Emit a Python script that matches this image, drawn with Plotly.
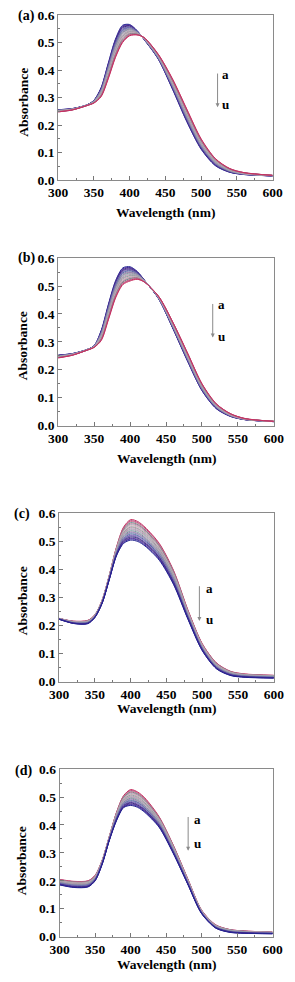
import plotly.graph_objects as go

W, H = 295, 982

# ---------------- data ----------------
wavelength = [300, 320, 340, 350, 360, 370, 380, 390, 400, 410, 420, 440, 460, 480, 500, 520, 540, 560, 600]
curve_labels = list("abcdefghijklmnopqrstu")
panel_labels = ["(a)", "(b)", "(c)", "(d)"]
x_ticks = [300, 350, 400, 450, 500, 550, 600]
y_ticks = [0.0, 0.1, 0.2, 0.3, 0.4, 0.5, 0.6]
x_title = "Wavelength (nm)"
y_title = "Absorbance"

# each row = one wavelength, columns = spectra a .. u
abs_a = [
    [0.256,0.256,0.255,0.255,0.254,0.254,0.254,0.253,0.253,0.252,0.252,0.252,0.251,0.251,0.250,0.250,0.250,0.249,0.249,0.248,0.248],
    [0.260,0.260,0.260,0.259,0.259,0.259,0.259,0.258,0.258,0.258,0.258,0.257,0.257,0.257,0.257,0.256,0.256,0.256,0.256,0.255,0.255],
    [0.273,0.273,0.273,0.273,0.273,0.273,0.273,0.272,0.272,0.272,0.272,0.272,0.272,0.272,0.271,0.271,0.271,0.271,0.271,0.271,0.271],
    [0.290,0.290,0.289,0.289,0.288,0.288,0.287,0.287,0.286,0.286,0.285,0.285,0.284,0.284,0.283,0.283,0.282,0.282,0.281,0.281,0.280],
    [0.336,0.334,0.333,0.331,0.329,0.328,0.326,0.324,0.323,0.321,0.320,0.318,0.316,0.315,0.313,0.311,0.310,0.308,0.306,0.305,0.303],
    [0.425,0.422,0.419,0.416,0.414,0.411,0.408,0.405,0.402,0.399,0.397,0.394,0.391,0.388,0.385,0.382,0.379,0.377,0.374,0.371,0.368],
    [0.512,0.509,0.505,0.502,0.499,0.495,0.492,0.489,0.485,0.482,0.479,0.475,0.472,0.469,0.465,0.462,0.458,0.455,0.452,0.448,0.445],
    [0.563,0.560,0.557,0.554,0.550,0.547,0.544,0.541,0.538,0.535,0.532,0.528,0.525,0.522,0.519,0.516,0.513,0.509,0.506,0.503,0.500],
    [0.566,0.564,0.562,0.560,0.558,0.556,0.554,0.552,0.550,0.548,0.546,0.543,0.541,0.539,0.537,0.535,0.533,0.531,0.529,0.527,0.525],
    [0.545,0.544,0.543,0.542,0.542,0.541,0.540,0.539,0.538,0.537,0.537,0.536,0.535,0.534,0.533,0.532,0.531,0.531,0.530,0.529,0.528],
    [0.512,0.512,0.513,0.513,0.513,0.514,0.514,0.514,0.515,0.515,0.516,0.516,0.516,0.517,0.517,0.517,0.518,0.518,0.518,0.519,0.519],
    [0.440,0.441,0.442,0.443,0.444,0.444,0.445,0.446,0.447,0.448,0.449,0.450,0.451,0.452,0.453,0.454,0.454,0.455,0.456,0.457,0.458],
    [0.330,0.332,0.334,0.336,0.338,0.340,0.341,0.343,0.345,0.347,0.349,0.351,0.353,0.355,0.357,0.359,0.360,0.362,0.364,0.366,0.368],
    [0.212,0.214,0.217,0.219,0.221,0.224,0.226,0.228,0.230,0.233,0.235,0.237,0.240,0.242,0.244,0.247,0.249,0.251,0.253,0.256,0.258],
    [0.112,0.114,0.116,0.118,0.120,0.122,0.123,0.125,0.127,0.129,0.131,0.133,0.135,0.137,0.139,0.141,0.142,0.144,0.146,0.148,0.150],
    [0.052,0.053,0.055,0.056,0.057,0.059,0.060,0.061,0.062,0.064,0.065,0.066,0.068,0.069,0.070,0.072,0.073,0.074,0.075,0.077,0.078],
    [0.028,0.029,0.029,0.030,0.031,0.032,0.032,0.033,0.034,0.034,0.035,0.036,0.036,0.037,0.038,0.039,0.039,0.040,0.041,0.041,0.042],
    [0.020,0.020,0.021,0.021,0.021,0.022,0.022,0.022,0.023,0.023,0.023,0.024,0.024,0.025,0.025,0.025,0.026,0.026,0.026,0.027,0.027],
    [0.015,0.015,0.015,0.015,0.015,0.015,0.015,0.016,0.016,0.016,0.016,0.016,0.016,0.016,0.017,0.017,0.017,0.017,0.017,0.017,0.017],
]

abs_b = [
    [0.252,0.252,0.251,0.251,0.250,0.250,0.249,0.249,0.248,0.248,0.247,0.247,0.246,0.246,0.245,0.245,0.244,0.244,0.243,0.243,0.242],
    [0.258,0.258,0.257,0.257,0.257,0.257,0.256,0.256,0.256,0.255,0.255,0.255,0.254,0.254,0.254,0.254,0.253,0.253,0.253,0.252,0.252],
    [0.272,0.272,0.272,0.272,0.272,0.272,0.272,0.271,0.271,0.271,0.271,0.271,0.271,0.271,0.270,0.270,0.270,0.270,0.270,0.270,0.270],
    [0.286,0.286,0.285,0.285,0.285,0.285,0.284,0.284,0.284,0.283,0.283,0.283,0.282,0.282,0.282,0.282,0.281,0.281,0.281,0.280,0.280],
    [0.342,0.340,0.338,0.336,0.335,0.333,0.331,0.329,0.327,0.325,0.324,0.322,0.320,0.318,0.316,0.314,0.312,0.311,0.309,0.307,0.305],
    [0.436,0.433,0.430,0.428,0.425,0.422,0.419,0.416,0.414,0.411,0.408,0.405,0.402,0.400,0.397,0.394,0.391,0.388,0.386,0.383,0.380],
    [0.520,0.517,0.514,0.511,0.508,0.505,0.501,0.498,0.495,0.492,0.489,0.486,0.483,0.480,0.477,0.474,0.470,0.467,0.464,0.461,0.458],
    [0.565,0.562,0.559,0.556,0.553,0.550,0.547,0.544,0.541,0.538,0.535,0.532,0.529,0.526,0.523,0.520,0.517,0.514,0.511,0.508,0.505],
    [0.569,0.566,0.564,0.561,0.559,0.556,0.554,0.551,0.549,0.546,0.544,0.541,0.538,0.536,0.533,0.531,0.528,0.526,0.523,0.521,0.518],
    [0.552,0.551,0.549,0.548,0.546,0.545,0.544,0.542,0.541,0.539,0.538,0.537,0.535,0.534,0.532,0.531,0.530,0.528,0.527,0.525,0.524],
    [0.521,0.521,0.520,0.520,0.520,0.519,0.519,0.519,0.518,0.518,0.518,0.517,0.517,0.516,0.516,0.516,0.515,0.515,0.515,0.514,0.514],
    [0.453,0.453,0.454,0.454,0.455,0.455,0.456,0.456,0.457,0.457,0.458,0.458,0.458,0.459,0.459,0.460,0.460,0.461,0.461,0.462,0.462],
    [0.345,0.346,0.347,0.348,0.350,0.351,0.352,0.353,0.354,0.355,0.357,0.358,0.359,0.360,0.361,0.362,0.363,0.365,0.366,0.367,0.368],
    [0.230,0.232,0.233,0.235,0.236,0.238,0.239,0.241,0.242,0.244,0.245,0.247,0.248,0.250,0.251,0.253,0.254,0.256,0.257,0.259,0.260],
    [0.125,0.126,0.128,0.129,0.130,0.131,0.133,0.134,0.135,0.136,0.138,0.139,0.140,0.141,0.143,0.144,0.145,0.146,0.148,0.149,0.150],
    [0.060,0.061,0.062,0.063,0.064,0.065,0.065,0.066,0.067,0.068,0.069,0.070,0.071,0.072,0.073,0.074,0.074,0.075,0.076,0.077,0.078],
    [0.032,0.033,0.033,0.034,0.034,0.035,0.035,0.036,0.036,0.037,0.037,0.038,0.038,0.039,0.039,0.040,0.040,0.041,0.041,0.042,0.042],
    [0.021,0.021,0.021,0.021,0.022,0.022,0.022,0.022,0.022,0.023,0.023,0.023,0.023,0.023,0.024,0.024,0.024,0.024,0.024,0.025,0.025],
    [0.014,0.014,0.014,0.014,0.014,0.014,0.014,0.014,0.014,0.014,0.015,0.015,0.015,0.015,0.015,0.015,0.015,0.015,0.015,0.015,0.015],
]

abs_c = [
    [0.225,0.225,0.225,0.225,0.224,0.224,0.224,0.224,0.224,0.224,0.224,0.223,0.223,0.223,0.223,0.223,0.223,0.222,0.222,0.222,0.222],
    [0.215,0.215,0.214,0.214,0.213,0.213,0.213,0.212,0.212,0.211,0.211,0.211,0.210,0.210,0.209,0.209,0.209,0.208,0.208,0.207,0.207],
    [0.218,0.217,0.217,0.216,0.216,0.215,0.214,0.214,0.213,0.213,0.212,0.211,0.211,0.210,0.210,0.209,0.208,0.208,0.207,0.207,0.206],
    [0.238,0.238,0.237,0.237,0.236,0.236,0.235,0.235,0.234,0.234,0.233,0.233,0.232,0.232,0.231,0.231,0.230,0.230,0.229,0.229,0.228],
    [0.290,0.289,0.289,0.288,0.288,0.287,0.286,0.286,0.285,0.285,0.284,0.283,0.283,0.282,0.282,0.281,0.280,0.280,0.279,0.279,0.278],
    [0.378,0.377,0.376,0.376,0.375,0.374,0.373,0.372,0.372,0.371,0.370,0.369,0.368,0.368,0.367,0.366,0.365,0.364,0.364,0.363,0.362],
    [0.478,0.476,0.475,0.473,0.472,0.470,0.469,0.467,0.466,0.464,0.463,0.461,0.459,0.458,0.456,0.455,0.453,0.452,0.450,0.449,0.447],
    [0.550,0.547,0.544,0.541,0.538,0.536,0.533,0.530,0.527,0.524,0.521,0.518,0.515,0.512,0.509,0.507,0.504,0.501,0.498,0.495,0.492],
    [0.577,0.573,0.570,0.566,0.562,0.559,0.555,0.551,0.548,0.544,0.541,0.537,0.533,0.530,0.526,0.522,0.519,0.515,0.511,0.508,0.504],
    [0.570,0.566,0.563,0.559,0.556,0.552,0.549,0.545,0.542,0.538,0.535,0.531,0.527,0.524,0.520,0.517,0.513,0.510,0.506,0.503,0.499],
    [0.550,0.547,0.543,0.540,0.537,0.533,0.530,0.527,0.523,0.520,0.517,0.513,0.510,0.507,0.503,0.500,0.496,0.493,0.490,0.486,0.483],
    [0.492,0.489,0.486,0.483,0.480,0.477,0.474,0.471,0.468,0.465,0.462,0.459,0.456,0.453,0.450,0.447,0.444,0.441,0.438,0.435,0.432],
    [0.395,0.393,0.390,0.388,0.385,0.383,0.380,0.378,0.375,0.373,0.370,0.368,0.365,0.363,0.360,0.358,0.355,0.353,0.350,0.348,0.345],
    [0.255,0.253,0.252,0.250,0.248,0.247,0.245,0.243,0.242,0.240,0.239,0.237,0.235,0.234,0.232,0.230,0.229,0.227,0.225,0.224,0.222],
    [0.135,0.134,0.133,0.131,0.130,0.129,0.128,0.126,0.125,0.124,0.123,0.121,0.120,0.119,0.118,0.116,0.115,0.114,0.113,0.111,0.110],
    [0.066,0.065,0.064,0.063,0.062,0.061,0.060,0.059,0.058,0.057,0.056,0.054,0.053,0.052,0.051,0.050,0.049,0.048,0.047,0.046,0.045],
    [0.036,0.035,0.035,0.034,0.033,0.032,0.032,0.031,0.030,0.029,0.029,0.028,0.027,0.026,0.026,0.025,0.024,0.023,0.023,0.022,0.021],
    [0.027,0.026,0.026,0.025,0.025,0.024,0.023,0.023,0.022,0.022,0.021,0.020,0.020,0.019,0.019,0.018,0.017,0.017,0.016,0.016,0.015],
    [0.022,0.022,0.021,0.021,0.020,0.020,0.019,0.019,0.018,0.018,0.017,0.017,0.016,0.016,0.015,0.015,0.014,0.014,0.013,0.013,0.012],
]

abs_d = [
    [0.205,0.204,0.203,0.202,0.201,0.200,0.199,0.198,0.197,0.196,0.195,0.194,0.193,0.192,0.191,0.190,0.189,0.188,0.187,0.186,0.185],
    [0.198,0.197,0.196,0.195,0.194,0.193,0.191,0.190,0.189,0.188,0.187,0.186,0.185,0.184,0.183,0.182,0.180,0.179,0.178,0.177,0.176],
    [0.200,0.199,0.198,0.197,0.196,0.195,0.193,0.192,0.191,0.190,0.189,0.188,0.187,0.186,0.185,0.184,0.182,0.181,0.180,0.179,0.178],
    [0.220,0.219,0.218,0.217,0.216,0.215,0.214,0.213,0.212,0.211,0.210,0.209,0.208,0.207,0.206,0.205,0.204,0.203,0.202,0.201,0.200],
    [0.275,0.274,0.274,0.273,0.272,0.271,0.271,0.270,0.269,0.268,0.268,0.267,0.266,0.265,0.265,0.264,0.263,0.262,0.262,0.261,0.260],
    [0.360,0.359,0.359,0.358,0.357,0.356,0.356,0.355,0.354,0.353,0.353,0.352,0.351,0.350,0.350,0.349,0.348,0.347,0.347,0.346,0.345],
    [0.445,0.444,0.442,0.441,0.439,0.438,0.436,0.435,0.433,0.432,0.430,0.429,0.427,0.426,0.424,0.423,0.421,0.420,0.418,0.417,0.415],
    [0.505,0.503,0.501,0.499,0.496,0.494,0.492,0.490,0.488,0.486,0.484,0.481,0.479,0.477,0.475,0.473,0.471,0.468,0.466,0.464,0.462],
    [0.527,0.524,0.521,0.518,0.516,0.513,0.510,0.507,0.504,0.501,0.499,0.496,0.493,0.490,0.487,0.484,0.481,0.479,0.476,0.473,0.470],
    [0.518,0.515,0.513,0.510,0.507,0.504,0.502,0.499,0.496,0.493,0.491,0.488,0.485,0.482,0.480,0.477,0.474,0.471,0.469,0.466,0.463],
    [0.497,0.494,0.492,0.489,0.487,0.484,0.481,0.479,0.476,0.474,0.471,0.468,0.466,0.463,0.461,0.458,0.455,0.453,0.450,0.448,0.445],
    [0.430,0.428,0.426,0.424,0.422,0.421,0.419,0.417,0.415,0.413,0.411,0.409,0.407,0.405,0.403,0.402,0.400,0.398,0.396,0.394,0.392],
    [0.328,0.327,0.325,0.324,0.322,0.321,0.319,0.318,0.316,0.315,0.313,0.312,0.310,0.309,0.307,0.306,0.304,0.303,0.301,0.300,0.298],
    [0.210,0.209,0.208,0.207,0.206,0.205,0.204,0.203,0.202,0.201,0.200,0.199,0.198,0.197,0.196,0.195,0.194,0.193,0.192,0.191,0.190],
    [0.095,0.094,0.094,0.093,0.092,0.092,0.091,0.090,0.090,0.089,0.089,0.088,0.087,0.087,0.086,0.085,0.085,0.084,0.083,0.083,0.082],
    [0.042,0.041,0.041,0.040,0.040,0.039,0.038,0.038,0.037,0.037,0.036,0.035,0.035,0.034,0.034,0.033,0.032,0.032,0.031,0.031,0.030],
    [0.025,0.025,0.024,0.024,0.023,0.023,0.022,0.022,0.021,0.021,0.020,0.020,0.019,0.019,0.018,0.018,0.017,0.017,0.016,0.016,0.015],
    [0.020,0.020,0.019,0.019,0.018,0.018,0.018,0.017,0.017,0.016,0.016,0.016,0.015,0.015,0.014,0.014,0.014,0.013,0.013,0.012,0.012],
    [0.016,0.016,0.015,0.015,0.015,0.015,0.014,0.014,0.014,0.013,0.013,0.013,0.012,0.012,0.012,0.012,0.011,0.011,0.011,0.010,0.010],
]

# arrow a -> u per panel: x position (nm), top and bottom absorbance
arrow_x = [523, 515, 496, 481]
arrow_top = [0.393, 0.441, 0.345, 0.434]
arrow_bottom = [0.265, 0.315, 0.216, 0.308]
label_x = [527, 520, 502, 486]
label_a_y = [0.385, 0.433, 0.333, 0.418]
label_u_y = [0.274, 0.320, 0.222, 0.332]

# ---------------- styling ----------------
palette_ab = ['#23238e', '#3a2a9c', '#5a2d91', '#2f2f7f', '#6b4fa8', '#7e6bb5', '#4f6f9f',
              '#8a8ab8', '#a07aa8', '#6f9a9a', '#b8a0b8', '#9aa6ae', '#c890b0', '#7fa79a',
              '#d8a8b8', '#a8b0b8', '#c07898', '#5f8f8a', '#d07090', '#b04878', '#c83060']
palette_cd = palette_ab[::-1]
palettes = [palette_ab, palette_ab, palette_cd, palette_cd]

# plot-area pixel boxes (left, right, top, bottom)
boxes = [(51.7, 281.7, 8.3, 175.7), (51.7, 283.0, 255.0, 425.0),
         (52.7, 283.0, 514.0, 685.0), (53.3, 281.7, 774.0, 944.0)]
xtitle_y = [209, 458, 712, 972]
ytitle_pos = [(14.3, 97), (13.3, 344), (13.3, 603), (12.3, 867)]
plabel_pos = [(6.7, 8.7), (6.0, 255.0), (1.7, 515.3), (2.7, 776.3)]

SERIF = "Liberation Serif"
datasets = [abs_a, abs_b, abs_c, abs_d]

fig = go.Figure()
layout = dict(width=W, height=H, margin=dict(l=0, r=0, t=0, b=0),
              paper_bgcolor='white', plot_bgcolor='white', showlegend=False)
annotations = []

def px(x):
    return x / W

def py(y):
    return 1 - y / H

for p, rows in enumerate(datasets):
    xa = 'x' if p == 0 else f'x{p+1}'
    ya = 'y' if p == 0 else f'y{p+1}'
    xkey = 'xaxis' if p == 0 else f'xaxis{p+1}'
    ykey = 'yaxis' if p == 0 else f'yaxis{p+1}'
    l, r, t, b = boxes[p]
    for k, lab in enumerate(curve_labels):
        yv = [row[k] for row in rows]
        fig.add_trace(go.Scatter(x=wavelength, y=yv, mode='lines', name=lab,
                                 line=dict(color=palettes[p][k], width=1, shape='spline', smoothing=0.8),
                                 xaxis=xa, yaxis=ya, hoverinfo='skip'))
    layout[xkey] = dict(domain=[px(l), px(r)], anchor=ya, range=[300, 600],
                        tickmode='array', tickvals=x_ticks, ticktext=[str(v) for v in x_ticks],
                        ticks='inside', ticklen=4, tickcolor='#777', tickwidth=1,
                        showline=True, linecolor='#8a8a8a', linewidth=1, mirror=True,
                        showgrid=False, zeroline=False,
                        tickfont=dict(family=SERIF, size=13.5, color='black', weight='bold'),
                        minor=dict(ticks='inside', ticklen=2, tick0=300, dtick=25, tickcolor='#777', showgrid=False))
    layout[ykey] = dict(domain=[py(b), py(t)], anchor=xa, range=[0, 0.6],
                        tickmode='array', tickvals=y_ticks, ticktext=[f"{v:.1f}" for v in y_ticks],
                        ticks='inside', ticklen=4, tickcolor='#777', tickwidth=1,
                        showline=True, linecolor='#8a8a8a', linewidth=1, mirror=True,
                        showgrid=False, zeroline=False,
                        tickfont=dict(family=SERIF, size=13.5, color='black', weight='bold'),
                        minor=dict(ticks='inside', ticklen=2, tick0=0, dtick=0.05, tickcolor='#777', showgrid=False))
    # axis titles
    annotations.append(dict(text=x_title, x=px((l + r) / 2), y=py(xtitle_y[p]), xref='paper', yref='paper',
                            showarrow=False, xanchor='center', yanchor='middle',
                            font=dict(family=SERIF, size=13.5, color='black', weight='bold')))
    annotations.append(dict(text=y_title, x=px(ytitle_pos[p][0]), y=py(ytitle_pos[p][1]), xref='paper', yref='paper',
                            showarrow=False, xanchor='center', yanchor='middle', textangle=-90,
                            font=dict(family=SERIF, size=13.5, color='black', weight='bold')))
    annotations.append(dict(text=panel_labels[p], x=px(plabel_pos[p][0]), y=py(plabel_pos[p][1]), xref='paper', yref='paper',
                            showarrow=False, xanchor='left', yanchor='middle',
                            font=dict(family=SERIF, size=14, color='black', weight='bold')))
    # arrow a -> u
    annotations.append(dict(text='', x=arrow_x[p], y=arrow_bottom[p], ax=arrow_x[p], ay=arrow_top[p],
                            xref=xa, yref=ya, axref=xa, ayref=ya, showarrow=True,
                            arrowhead=2, arrowsize=0.8, arrowwidth=1, arrowcolor='#8a8a8a'))
    annotations.append(dict(text=curve_labels[0], x=label_x[p], y=label_a_y[p], xref=xa, yref=ya,
                            showarrow=False, xanchor='left', yanchor='middle',
                            font=dict(family=SERIF, size=13, color='black', weight='bold')))
    annotations.append(dict(text=curve_labels[-1], x=label_x[p], y=label_u_y[p], xref=xa, yref=ya,
                            showarrow=False, xanchor='left', yanchor='middle',
                            font=dict(family=SERIF, size=13, color='black', weight='bold')))

layout['annotations'] = annotations
fig.update_layout(**layout)
fig.write_html("out.html", config={'displayModeBar': False},
               post_script="document.body.style.margin='0';document.body.style.overflow='hidden';")
